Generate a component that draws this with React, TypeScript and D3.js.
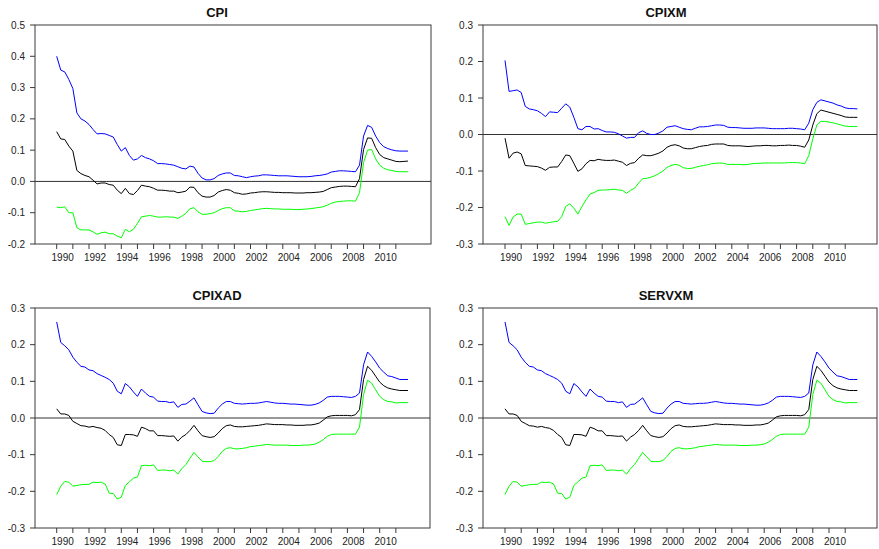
import React from "react";
import * as d3 from "d3";

// Quarterly observations 1990Q1 .. 2011Q4
const quarters: number[] = d3.range(88).map((i) => 1990 + i / 4);
const yearTicks: number[] = d3.range(1990, 2012);
const yearLabels: number[] = d3.range(1990, 2011, 2);

const cpiBlue = [0.400,0.356,0.350,0.326,0.297,0.219,0.200,0.193,0.182,0.166,0.152,0.153,0.152,0.147,0.142,0.118,0.097,0.108,0.083,0.068,0.072,0.083,0.076,0.072,0.066,0.057,0.057,0.056,0.054,0.052,0.047,0.042,0.040,0.049,0.046,0.026,0.011,0.005,0.005,0.009,0.019,0.024,0.027,
  0.027,0.019,0.018,0.015,0.012,0.015,0.017,0.018,0.021,0.021,0.020,0.019,0.018,0.018,0.018,0.017,0.016,0.015,0.015,0.015,0.016,0.018,0.019,0.021,0.024,0.030,0.032,0.034,0.034,0.033,0.032,0.031,0.052,0.145,0.179,0.173,0.145,0.124,0.111,0.105,0.101,0.098,0.097,0.097,0.097];
const cpiBlack = [0.159,0.136,0.134,0.113,0.097,0.035,0.025,0.019,0.015,0.004,-0.008,-0.005,-0.005,-0.010,-0.012,-0.028,-0.039,-0.022,-0.039,-0.042,-0.029,-0.012,-0.015,-0.017,-0.022,-0.028,-0.028,-0.029,-0.031,-0.031,-0.036,-0.034,-0.031,-0.018,-0.019,-0.036,-0.047,-0.050,-0.050,-0.045,-0.034,-0.029,-0.026,
  -0.028,-0.036,-0.038,-0.041,-0.040,-0.037,-0.036,-0.034,-0.033,-0.033,-0.034,-0.035,-0.035,-0.036,-0.036,-0.036,-0.037,-0.037,-0.037,-0.036,-0.036,-0.035,-0.034,-0.032,-0.026,-0.020,-0.018,-0.016,-0.015,-0.015,-0.016,-0.017,0.009,0.102,0.139,0.138,0.108,0.086,0.076,0.072,0.068,0.064,0.063,0.064,0.065];
const cpiGreen = [-0.082,-0.084,-0.081,-0.100,-0.100,-0.148,-0.155,-0.155,-0.155,-0.161,-0.169,-0.164,-0.162,-0.167,-0.167,-0.175,-0.180,-0.153,-0.161,-0.153,-0.134,-0.113,-0.111,-0.109,-0.111,-0.114,-0.114,-0.113,-0.114,-0.114,-0.118,-0.111,-0.102,-0.087,-0.084,-0.097,-0.105,-0.105,-0.103,-0.100,-0.093,-0.087,-0.084,
  -0.084,-0.094,-0.095,-0.097,-0.096,-0.093,-0.091,-0.089,-0.087,-0.086,-0.087,-0.088,-0.088,-0.089,-0.089,-0.089,-0.090,-0.090,-0.089,-0.088,-0.087,-0.085,-0.083,-0.081,-0.076,-0.070,-0.066,-0.064,-0.063,-0.062,-0.062,-0.063,-0.036,0.060,0.100,0.102,0.072,0.052,0.042,0.037,0.035,0.032,0.031,0.031,0.031];

const cpixmBlue = [0.203,0.118,0.120,0.122,0.115,0.077,0.070,0.068,0.065,0.058,0.049,0.062,0.061,0.060,0.072,0.084,0.075,0.047,0.016,0.013,0.022,0.022,0.015,0.016,0.011,0.007,0.007,0.006,0.002,-0.004,-0.010,-0.008,-0.008,0.005,0.010,0.003,0.000,0.000,0.004,0.010,0.020,0.022,0.024,0.020,0.016,
  0.014,0.013,0.017,0.021,0.021,0.022,0.024,0.026,0.026,0.025,0.020,0.019,0.019,0.018,0.017,0.017,0.017,0.018,0.018,0.018,0.017,0.016,0.016,0.016,0.016,0.017,0.017,0.016,0.015,0.013,0.031,0.068,0.088,0.095,0.092,0.089,0.086,0.081,0.078,0.073,0.071,0.071,0.070];
const cpixmBlack = [-0.010,-0.065,-0.051,-0.048,-0.053,-0.085,-0.086,-0.087,-0.088,-0.092,-0.098,-0.090,-0.089,-0.089,-0.074,-0.056,-0.058,-0.079,-0.101,-0.094,-0.080,-0.071,-0.072,-0.068,-0.070,-0.071,-0.071,-0.070,-0.073,-0.076,-0.085,-0.079,-0.077,-0.065,-0.056,-0.058,-0.058,-0.055,-0.051,-0.045,-0.035,-0.030,-0.028,-0.031,-0.037,
  -0.039,-0.039,-0.036,-0.033,-0.031,-0.030,-0.027,-0.026,-0.026,-0.026,-0.030,-0.031,-0.031,-0.031,-0.032,-0.033,-0.032,-0.031,-0.031,-0.030,-0.030,-0.031,-0.031,-0.030,-0.030,-0.029,-0.030,-0.030,-0.032,-0.035,-0.015,0.026,0.057,0.067,0.064,0.061,0.058,0.055,0.052,0.048,0.047,0.047,0.047];
const cpixmGreen = [-0.225,-0.249,-0.226,-0.218,-0.218,-0.246,-0.244,-0.242,-0.240,-0.240,-0.243,-0.241,-0.239,-0.238,-0.225,-0.197,-0.190,-0.202,-0.218,-0.197,-0.179,-0.163,-0.159,-0.153,-0.152,-0.152,-0.151,-0.150,-0.152,-0.153,-0.161,-0.153,-0.147,-0.133,-0.121,-0.120,-0.117,-0.113,-0.107,-0.100,-0.090,-0.085,-0.082,-0.084,-0.091,
  -0.093,-0.093,-0.090,-0.087,-0.085,-0.083,-0.080,-0.079,-0.078,-0.079,-0.082,-0.082,-0.082,-0.082,-0.083,-0.082,-0.080,-0.079,-0.079,-0.078,-0.078,-0.078,-0.078,-0.078,-0.078,-0.077,-0.077,-0.077,-0.078,-0.080,-0.058,-0.012,0.026,0.036,0.036,0.034,0.032,0.029,0.026,0.023,0.022,0.022,0.022];

const cpixadBlue = [0.262,0.206,0.197,0.186,0.166,0.152,0.141,0.139,0.131,0.129,0.121,0.116,0.111,0.105,0.095,0.073,0.066,0.094,0.085,0.071,0.059,0.079,0.068,0.059,0.057,0.046,0.045,0.045,0.042,0.044,0.029,0.037,0.038,0.046,0.055,0.036,0.018,0.014,0.012,0.013,0.027,0.038,0.045,0.045,0.040,
  0.039,0.038,0.039,0.040,0.040,0.041,0.043,0.045,0.043,0.041,0.040,0.040,0.039,0.038,0.038,0.037,0.036,0.035,0.035,0.037,0.041,0.048,0.057,0.059,0.059,0.059,0.058,0.057,0.056,0.059,0.068,0.145,0.180,0.168,0.153,0.136,0.125,0.115,0.113,0.109,0.105,0.105,0.105];
const cpixadBlack = [0.025,0.011,0.011,0.007,-0.009,-0.015,-0.021,-0.022,-0.025,-0.023,-0.026,-0.028,-0.034,-0.045,-0.053,-0.073,-0.075,-0.045,-0.045,-0.046,-0.050,-0.025,-0.029,-0.035,-0.035,-0.048,-0.048,-0.049,-0.050,-0.049,-0.063,-0.052,-0.045,-0.034,-0.020,-0.035,-0.048,-0.051,-0.053,-0.051,-0.041,-0.029,-0.021,-0.019,-0.023,
  -0.024,-0.024,-0.023,-0.022,-0.021,-0.020,-0.018,-0.016,-0.017,-0.018,-0.018,-0.018,-0.019,-0.019,-0.020,-0.020,-0.020,-0.019,-0.019,-0.017,-0.014,-0.006,0.003,0.006,0.007,0.007,0.007,0.007,0.006,0.009,0.023,0.105,0.141,0.130,0.114,0.098,0.088,0.082,0.079,0.077,0.075,0.075,0.075];
const cpixadGreen = [-0.209,-0.186,-0.173,-0.175,-0.186,-0.184,-0.182,-0.181,-0.181,-0.175,-0.176,-0.175,-0.180,-0.205,-0.206,-0.221,-0.216,-0.184,-0.174,-0.164,-0.161,-0.130,-0.129,-0.130,-0.128,-0.143,-0.142,-0.142,-0.144,-0.142,-0.153,-0.138,-0.127,-0.110,-0.094,-0.106,-0.118,-0.119,-0.119,-0.116,-0.105,-0.091,-0.083,-0.081,-0.084,
  -0.084,-0.083,-0.081,-0.078,-0.077,-0.075,-0.074,-0.072,-0.073,-0.074,-0.074,-0.074,-0.074,-0.075,-0.075,-0.075,-0.074,-0.074,-0.073,-0.071,-0.066,-0.059,-0.050,-0.045,-0.044,-0.044,-0.044,-0.044,-0.044,-0.044,-0.025,0.064,0.103,0.095,0.077,0.059,0.050,0.045,0.044,0.041,0.042,0.042,0.042];

const servxmBlue = cpixadBlue.slice();
const servxmBlack = cpixadBlack.slice();
const servxmGreen = cpixadGreen.slice();

const ticksCPI = [-2, -1, 0, 1, 2, 3, 4, 5].map((i) => i / 10);
const ticksSym = [-3, -2, -1, 0, 1, 2, 3].map((i) => i / 10);

const FONT = "Arial, 'Liberation Sans', Helvetica, sans-serif";

type PanelProps = {
  title: string;
  titleX: number;
  l: number; r: number; t: number; b: number;
  x0: number; x1: number;
  yDomain: [number, number];
  yTicks: number[];
  blue: number[]; black: number[]; green: number[];
};

function Panel(p: PanelProps) {
  const x = d3.scaleLinear().domain([1990, 2010]).range([p.x0, p.x1]);
  const y = d3.scaleLinear().domain(p.yDomain).range([p.b, p.t]);
  const line = d3
    .line<number>()
    .x((_, i) => x(quarters[i]))
    .y((d) => y(d));
  const frame = "#3a3a3a";
  return (
    <g>
      <text x={p.titleX} y={p.t - 8.5} textAnchor="middle" fontFamily={FONT} fontWeight="bold" fontSize={13} fill="#111">
        {p.title}
      </text>
      <rect x={p.l} y={p.t} width={p.r - p.l} height={p.b - p.t} fill="none" stroke={frame} strokeWidth={1} />
      {p.yTicks.map((v) => (
        <g key={"y" + v}>
          <line x1={p.l - 5} x2={p.l} y1={y(v)} y2={y(v)} stroke={frame} />
          <text x={p.l - 10} y={y(v) + 3.5} textAnchor="end" fontFamily={FONT} fontSize={10} fill="#222">
            {v.toFixed(1)}
          </text>
        </g>
      ))}
      {yearTicks.map((yr) => (
        <line key={"t" + yr} x1={x(yr)} x2={x(yr)} y1={p.b} y2={p.b + 5} stroke={frame} />
      ))}
      {yearLabels.map((yr) => (
        <text key={"l" + yr} x={x(yr) + 6} y={p.b + 17} textAnchor="middle" fontFamily={FONT} fontSize={10} fill="#222">
          {yr}
        </text>
      ))}
      <line x1={p.l} x2={p.r} y1={y(0)} y2={y(0)} stroke="#333" strokeWidth={1} />
      <path d={line(p.blue) || ""} fill="none" stroke="#0000ff" strokeWidth={1} />
      <path d={line(p.black) || ""} fill="none" stroke="#000000" strokeWidth={1} />
      <path d={line(p.green) || ""} fill="none" stroke="#00ff00" strokeWidth={1} />
    </g>
  );
}

export default function App() {
  return (
    <svg width={879} height={549} style={{ position: "absolute", left: 0, top: 0, background: "#fff" }}>
      <rect x={0} y={0} width={879} height={549} fill="#fff" />
      <Panel title="CPI" titleX={217} l={35} r={431} t={25} b={244} x0={56.7} x1={379.7}
        yDomain={[-0.2, 0.5]} yTicks={ticksCPI} blue={cpiBlue} black={cpiBlack} green={cpiGreen} />
      <Panel title="CPIXM" titleX={666} l={483} r={877} t={25} b={244} x0={505} x1={829}
        yDomain={[-0.3, 0.3]} yTicks={ticksSym} blue={cpixmBlue} black={cpixmBlack} green={cpixmGreen} />
      <Panel title="CPIXAD" titleX={217} l={35} r={430} t={308} b={528} x0={56.7} x1={379.7}
        yDomain={[-0.3, 0.3]} yTicks={ticksSym} blue={cpixadBlue} black={cpixadBlack} green={cpixadGreen} />
      <Panel title="SERVXM" titleX={666} l={483} r={877} t={308} b={528} x0={505} x1={829}
        yDomain={[-0.3, 0.3]} yTicks={ticksSym} blue={servxmBlue} black={servxmBlack} green={servxmGreen} />
    </svg>
  );
}
